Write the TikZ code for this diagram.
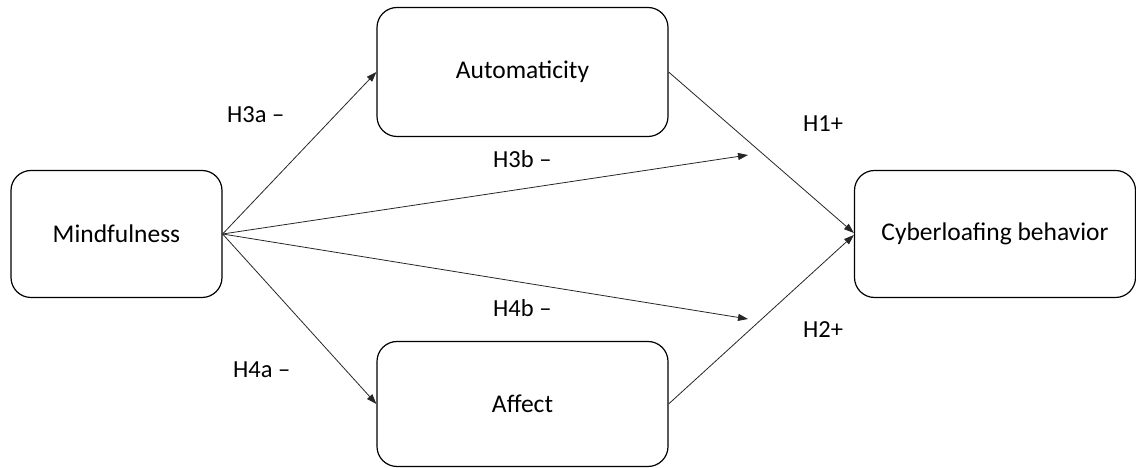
\documentclass[tikz,border=0pt]{standalone}
\usepackage{fontspec}
\setmainfont{Carlito}
\usepackage{tikz}
\usetikzlibrary{arrows.meta}

\begin{document}
\begin{tikzpicture}[x=1pt,y=1pt,
  box/.style={draw,line width=1.2pt,rounded corners=20pt,minimum height=127pt,
    font=\fontsize{25.5}{30}\selectfont},
  arr/.style={draw=black!85,line width=0.8pt,-{Triangle[length=10pt,width=7pt]}},
  hyp/.style={anchor=base west,inner sep=0pt,font=\fontsize{24.5}{28}\selectfont}]
  \useasboundingbox (0,0) rectangle (1136,468);
 %boxes
    \node[box,minimum width=211pt] (M) at (116.5,234) {Mindfulness};
    \node[box,minimum width=291pt,minimum height=129pt] (Au) at (522.5,396) {Automaticity};
    \node[box,minimum width=291pt,minimum height=125pt] (Af) at (522.5,64) {Affect};
    \node[box,minimum width=281pt] (C) at (995,234) {Cyberloafing behavior};
 %free ends
    \coordinate (e3b) at (748,313);
    \coordinate (e4b) at (748,149);
 %arrows
    \draw[arr] (M.east) -- (Au.west);
    \draw[arr] (M.east) -- (Af.west);
    \draw[arr] (M.east) -- (e3b);
    \draw[arr] (M.east) -- (e4b);
    \draw[arr] (Au.east) -- ([yshift=1pt]C.west);
    \draw[arr] (Af.east) -- ([yshift=-1pt]C.west);
 %labels
    \node[hyp] (h3a) at (227,345) {H3a --};
    \node[hyp] (h4a) at (233,90) {H4a --};
    \node[hyp] (h3b) at (493,300) {H3b --};
    \node[hyp] (h4b) at (493,151) {H4b --};
    \node[hyp] (h1) at (803,336) {H1+};
    \node[hyp] (h2) at (803,130) {H2+};
\end{tikzpicture}
\end{document}
